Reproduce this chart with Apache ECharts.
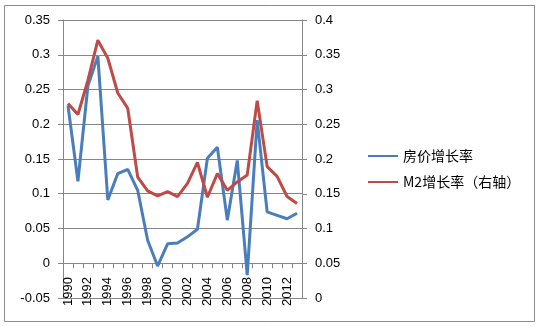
<!DOCTYPE html>
<html>
<head>
<meta charset="utf-8">
<script src="https://cdn.jsdelivr.net/npm/echarts@6/dist/echarts.min.js"></script>
<style>
html,body{margin:0;padding:0;background:#fff;}
#chart{width:537px;height:326px;}
</style>
</head>
<body>
<div id="chart"></div>
<script>
var years = ['1990','1991','1992','1993','1994','1995','1996','1997','1998','1999','2000','2001','2002','2003','2004','2005','2006','2007','2008','2009','2010','2011','2012','2013'];
var housePrice = [0.227,0.118,0.255,0.298,0.091,0.129,0.135,0.105,0.033,-0.004,0.028,0.029,0.038,0.049,0.151,0.167,0.062,0.148,-0.017,0.206,0.074,0.069,0.064,0.072];
var m2Growth = [0.280,0.264,0.313,0.371,0.345,0.295,0.273,0.174,0.154,0.147,0.153,0.146,0.165,0.195,0.145,0.179,0.155,0.167,0.177,0.284,0.189,0.175,0.146,0.136];
var leftTicks = [-0.05, 0, 0.05, 0.1, 0.15, 0.2, 0.25, 0.3, 0.35];
var rightTicks = [0, 0.05, 0.1, 0.15, 0.2, 0.25, 0.3, 0.35, 0.4];
var seriesNames = ['房价增长率','M2增长率（右轴）'];

var FONT = '"Liberation Sans", Arial, "Noto Sans CJK SC", sans-serif';
var axisGray = '#868686';
function fmt(v){ return String(+v.toFixed(2)); }

var chart = echarts.init(document.getElementById('chart'), null, {renderer:'canvas'});
chart.setOption({
  animation: false,
  color: ['#4A7EBB', '#BE4B48'],
  textStyle: {fontFamily: FONT},
  graphic: [{
    type: 'rect',
    shape: {x: 4.5, y: 5.5, width: 530, height: 316},
    style: {fill: 'none', stroke: '#8c8c8c', lineWidth: 1},
    silent: true,
    z: -1
  }],
  grid: {left: 63, right: 235, top: 20, bottom: 28, outerBoundsMode: 'none'},
  legend: {
    orient: 'vertical',
    left: 363,
    top: 144,
    itemWidth: 30,
    itemHeight: 2,
    itemGap: 12,
    icon: 'rect',
    textStyle: {fontSize: 14, lineHeight: 14, color: '#000', fontFamily: '"Noto Sans CJK SC", sans-serif'},
    data: seriesNames
  },
  xAxis: {
    type: 'category',
    z: 3,
    data: years,
    boundaryGap: true,
    axisLine: {onZero: true, onZeroAxisIndex: 0, lineStyle: {color: axisGray, width: 1}},
    axisTick: {show: true, interval: 0, length: 5, lineStyle: {color: axisGray}},
    axisLabel: {interval: 1, rotate: 90, margin: -21, fontSize: 13, color: '#000', fontFamily: FONT}
  },
  yAxis: [{
    type: 'value',
    z: 3,
    min: leftTicks[0], max: leftTicks[leftTicks.length - 1], interval: 0.05,
    axisLine: {show: true, lineStyle: {color: axisGray}},
    axisTick: {show: true, length: 5, lineStyle: {color: axisGray}},
    axisLabel: {margin: 13, fontSize: 13, color: '#000', formatter: fmt, fontFamily: FONT},
    splitLine: {show: true, lineStyle: {color: axisGray, width: 1}}
  }, {
    type: 'value',
    z: 3,
    min: rightTicks[0], max: rightTicks[rightTicks.length - 1], interval: 0.05,
    position: 'right',
    axisLine: {show: true, lineStyle: {color: axisGray}},
    axisTick: {show: true, length: 5, lineStyle: {color: axisGray}},
    axisLabel: {margin: 13, fontSize: 13, color: '#000', formatter: fmt, fontFamily: FONT},
    splitLine: {show: false}
  }],
  series: [{
    name: seriesNames[0],
    type: 'line',
    yAxisIndex: 0,
    data: housePrice,
    showSymbol: false,
    lineStyle: {color: '#4A7EBB', width: 3},
    itemStyle: {color: '#4A7EBB'}
  }, {
    name: seriesNames[1],
    type: 'line',
    yAxisIndex: 1,
    data: m2Growth,
    showSymbol: false,
    lineStyle: {color: '#BE4B48', width: 3},
    itemStyle: {color: '#BE4B48'}
  }]
});
</script>
</body>
</html>
